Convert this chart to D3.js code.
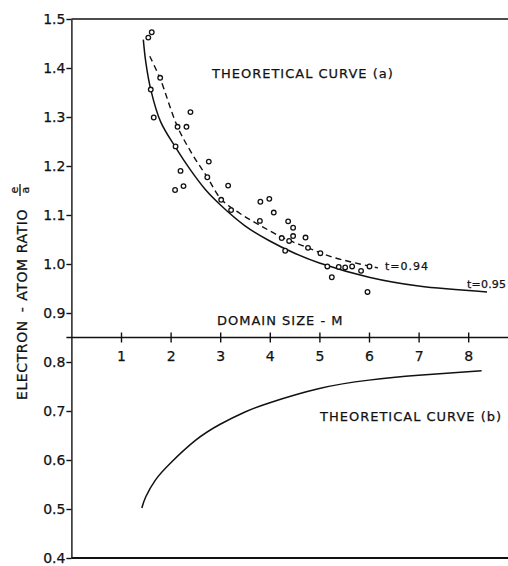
<!DOCTYPE html>
<html>
<head>
<meta charset="utf-8">
<script src="https://cdn.jsdelivr.net/npm/d3@7"></script>
<style>
  body { margin: 0; background: #fff; }
  svg text { font-family: "DejaVu Sans", sans-serif; fill: #111; stroke: #111; stroke-width: 0.25; }
  .axis path, .axis line { stroke: #111; stroke-width: 1.4; }
  .axis text { font-size: 14px; }
  .label { font-size: 13px; letter-spacing: 1px; }
  .title { font-size: 14px; letter-spacing: 0.6px; }
  .tlabel { font-size: 11px; }
</style>
</head>
<body>
<div class="container"></div>
<script>
// measured points (domain size M, electron-atom ratio e/a)
var pointM = [1.62,1.55,1.79,1.60,1.66,2.40,2.14,2.32,2.10,2.77,2.20,2.74,2.09,2.26,3.16,3.02,3.22,3.81,3.99,3.80,
              4.08,4.37,4.47,4.47,4.24,4.39,4.72,4.77,4.31,5.02,5.16,5.39,5.52,5.66,5.84,6.01,5.25,5.97];
var pointR = [1.473,1.462,1.380,1.356,1.299,1.310,1.280,1.280,1.240,1.209,1.190,1.177,1.151,1.159,1.160,1.131,1.110,1.127,1.133,1.088,
              1.105,1.087,1.074,1.057,1.053,1.047,1.054,1.033,1.027,1.022,0.995,0.994,0.993,0.995,0.986,0.995,0.973,0.943];

// theoretical curve (a), t = 0.95 (solid)
var curveAM = [1.45,1.50,1.60,1.80,2.10,2.40,2.70,3.00,3.50,4.00,4.50,5.00,6.00,7.00,8.38];
var curveAR = [1.458,1.412,1.356,1.290,1.238,1.192,1.152,1.121,1.078,1.047,1.022,1.002,0.973,0.955,0.943];

// fitted curve, t = 0.94 (dashed)
var curveTM = [1.58,1.79,2.14,2.45,2.74,3.02,3.40,3.80,4.24,4.77,5.30,6.18];
var curveTR = [1.424,1.378,1.280,1.222,1.177,1.132,1.103,1.079,1.055,1.033,1.013,0.992];

// theoretical curve (b)
var curveBM = [1.42,1.50,1.70,2.00,2.50,3.00,3.50,4.00,5.00,6.00,7.00,8.27];
var curveBR = [0.502,0.525,0.560,0.594,0.640,0.673,0.698,0.717,0.746,0.763,0.773,0.782];

var xTicks = [1,2,3,4,5,6,7,8];
var yTicks = [0.4,0.5,0.6,0.7,0.8,0.9,1.0,1.1,1.2,1.3,1.4,1.5];

const WIDTH = 508;
const HEIGHT = 566;

var svg, xScale, yScale;

var translate = function(x, y){
	return "translate("+x+","+y+")";
};

var zip = function(a, b){
	return a.map(function(d, i){ return [d, b[i]]; });
};

var loadChart = function(){
	svg = d3.select('.container').append('svg')
		.attr('width', WIDTH)
		.attr('height', HEIGHT);

	xScale = d3.scaleLinear()
		.domain([0, 9])
		.range([71.4, 71.4 + 9 * 49.6]);

	yScale = d3.scaleLinear()
		.domain([0.4, 1.5])
		.range([558, 19]);

	var x0 = xScale(0);

	// left axis
	svg.append('g')
		.attr('class', 'axis')
		.attr('transform', translate(x0, 0))
		.call(d3.axisLeft(yScale).tickValues(yTicks).tickSize(5).tickSizeOuter(0).tickPadding(1)
			.tickFormat(d3.format('.1f')));

	// frame lines top and bottom
	svg.append('line')
		.attr('x1', x0).attr('x2', WIDTH)
		.attr('y1', yScale(1.5)).attr('y2', yScale(1.5))
		.attr('stroke', '#111').attr('stroke-width', 1.6);
	svg.append('line')
		.attr('x1', x0).attr('x2', WIDTH)
		.attr('y1', yScale(0.4)).attr('y2', yScale(0.4))
		.attr('stroke', '#111').attr('stroke-width', 1.8);

	// domain size axis through the middle
	var xAxisG = svg.append('g')
		.attr('class', 'axis')
		.attr('transform', translate(0, yScale(0.85)))
		.call(d3.axisBottom(xScale).tickValues(xTicks).tickSize(5).tickSizeOuter(0).tickPadding(9));
	xAxisG.selectAll('.tick line').attr('y1', -5);
	xAxisG.select('.domain').attr('d', 'M' + (x0 - 5) + ',0H' + (WIDTH + 20));

	svg.append('text')
		.attr('class', 'label')
		.attr('x', 217)
		.attr('y', yScale(0.85) - 13)
		.text('DOMAIN SIZE - M');

	// y title, rotated
	var title = svg.append('g')
		.attr('transform', translate(27, 400) + ' rotate(-90)');
	var tt = title.append('text')
		.attr('class', 'title')
		.attr('x', 0).attr('y', 0);
	tt.append('tspan').text('ELECTRON');
	tt.append('tspan').attr('dx', 8).text('-');
	tt.append('tspan').attr('dx', 6).text('ATOM RATIO');
	title.append('text')
		.attr('class', 'title')
		.attr('x', 210).attr('y', -9)
		.attr('text-anchor', 'middle')
		.style('font-size', '11px')
		.style('letter-spacing', '0px')
		.text('e');
	title.append('line')
		.attr('x1', 204).attr('x2', 216)
		.attr('y1', -7).attr('y2', -7)
		.attr('stroke', '#111').attr('stroke-width', 1.3);
	title.append('text')
		.attr('class', 'title')
		.attr('x', 210).attr('y', 1.5)
		.attr('text-anchor', 'middle')
		.style('font-size', '11px')
		.style('letter-spacing', '0px')
		.text('a');

	var line = d3.line()
		.x(function(d){ return xScale(d[0]); })
		.y(function(d){ return yScale(d[1]); })
		.curve(d3.curveCatmullRom);

	svg.append('path')
		.attr('d', line(zip(curveAM, curveAR)))
		.attr('fill', 'none').attr('stroke', '#111').attr('stroke-width', 1.5);

	svg.append('path')
		.attr('d', line(zip(curveTM, curveTR)))
		.attr('fill', 'none').attr('stroke', '#111').attr('stroke-width', 1.4)
		.attr('stroke-dasharray', '6,4');

	svg.append('path')
		.attr('d', line.curve(d3.curveNatural)(zip(curveBM, curveBR)))
		.attr('fill', 'none').attr('stroke', '#111').attr('stroke-width', 1.5);

	svg.append('g').selectAll('circle').data(zip(pointM, pointR))
		.enter().append('circle')
		.attr('cx', function(d){ return xScale(d[0]); })
		.attr('cy', function(d){ return yScale(d[1]); })
		.attr('r', 2.3)
		.attr('fill', '#fff')
		.attr('stroke', '#111')
		.attr('stroke-width', 1.3);

	svg.append('text').attr('class', 'label')
		.attr('x', 212).attr('y', 78)
		.text('THEORETICAL CURVE (a)');
	svg.append('text').attr('class', 'label')
		.attr('x', 320).attr('y', 421)
		.text('THEORETICAL CURVE (b)');

	svg.append('text').attr('class', 'tlabel')
		.attr('x', 385).attr('y', 270)
		.style('letter-spacing', '1px')
		.text('t=0.94');
	svg.append('text').attr('class', 'tlabel')
		.attr('x', 467).attr('y', 288)
		.style('letter-spacing', '0.2px')
		.text('t=0.95');
};

window.onload = loadChart;
</script>
</body>
</html>
